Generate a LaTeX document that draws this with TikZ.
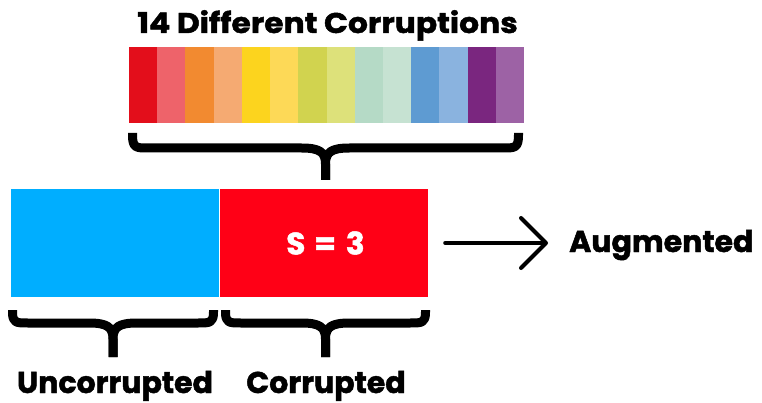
\documentclass[tikz,border=0pt]{standalone}
\usepackage{graphicx}
\usepackage{fontspec}
\setmainfont{Poppins}[BoldFeatures={FakeBold=1.6}]
\usetikzlibrary{arrows.meta}
\definecolor{c1}{HTML}{E30E1B}
\definecolor{c2}{HTML}{EE636A}
\definecolor{c3}{HTML}{F28A30}
\definecolor{c4}{HTML}{F5AA72}
\definecolor{c5}{HTML}{FCD41E}
\definecolor{c6}{HTML}{FDD957}
\definecolor{c7}{HTML}{D1D34F}
\definecolor{c8}{HTML}{DDE17A}
\definecolor{c9}{HTML}{B5DAC6}
\definecolor{c10}{HTML}{C6E2D2}
\definecolor{c11}{HTML}{5E9BD2}
\definecolor{c12}{HTML}{8AB3DF}
\definecolor{c13}{HTML}{7A267F}
\definecolor{c14}{HTML}{9D62A5}
\definecolor{boxblue}{HTML}{00AEFF}
\definecolor{boxred}{HTML}{FF0016}
\tikzset{
  lbl/.style={font=\bfseries\fontsize{30}{30}\selectfont, anchor=base, inner sep=0pt},
  bigbox/.style={minimum width=208pt, minimum height=108pt, inner sep=0pt, draw=none},
  bracestroke/.style={line width=9pt, line cap=butt, line join=round},
}
% \mybrace{x0}{x1}{top}{mid}{bot}
\newcommand\mybrace[5]{%
  \pgfmathsetmacro\xc{(#1+#2)/2}%
  \draw[bracestroke]
    ({#1+4.5},#3) -- ({#1+4.5},{#3+2}) .. controls ({#1+4.5},#4) and ({#1+8},#4) .. ({#1+20},#4)
    -- ({\xc-24},#4) .. controls ({\xc-6},#4) and (\xc,{#4+4}) .. (\xc,{#4+16}) -- (\xc,#5);
  \draw[bracestroke]
    ({#2-4.5},#3) -- ({#2-4.5},{#3+2}) .. controls ({#2-4.5},#4) and ({#2-8},#4) .. ({#2-20},#4)
    -- ({\xc+24},#4) .. controls ({\xc+6},#4) and (\xc,{#4+4}) .. (\xc,{#4+16}) -- (\xc,#5);
}
\begin{document}
\begin{tikzpicture}[x=1pt,y=-1pt]
\useasboundingbox (0,0) rectangle (762,403);
% title
\node[lbl, font=\bfseries\fontsize{28.5}{28.5}\selectfont] (title) at (327.5,33) {\scalebox{1.1}[1]{14 Different Corruptions}};
% colour stripes
\foreach \i in {1,...,14}{
  \fill[c\i] ({129+(\i-1)*395/14},47) rectangle ({129+\i*395/14+0.3},123);
}
% top brace
\mybrace{128}{523}{133}{148}{180}
% boxes
\node[bigbox, fill=boxblue] (unc) at (115,243) {};
\node[bigbox, fill=boxred, text=white, font=\bfseries\fontsize{31}{31}\selectfont] (cor) at (324,243) {\hspace{3pt}S\hspace{9pt}=\hspace{10pt}3};
% bottom braces
\mybrace{8}{218}{310}{323}{357}
\mybrace{221}{430}{310}{323}{357}
% labels
\node[lbl] (lunc) at (115,393) {Uncorrupted};
\node[lbl] (lcor) at (326,393) {Corrupted};
\node[lbl, anchor=base west] (aug) at (569,252) {Augmented};
% arrow
\draw[line width=4pt, line cap=round, -{Straight Barb[length=25pt,width=50pt,round]}]
  ([xshift=17pt]cor.east) -- ([xshift=-21pt]cor.east -| aug.west);
\end{tikzpicture}
\end{document}
